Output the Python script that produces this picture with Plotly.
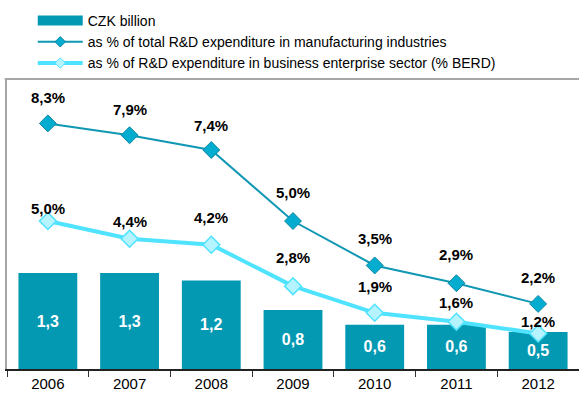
import plotly.graph_objects as go

years = [2006, 2007, 2008, 2009, 2010, 2011, 2012]
czk_billion = [1.3, 1.3, 1.2, 0.8, 0.6, 0.6, 0.5]
pct_manufacturing = [8.3, 7.9, 7.4, 5.0, 3.5, 2.9, 2.2]
pct_berd = [5.0, 4.4, 4.2, 2.8, 1.9, 1.6, 1.2]

# vertical offsets (px) for the percentage labels above each marker
offsets_manufacturing = [26, 26, 25, 29, 27, 29, 26]
offsets_berd = [13, 17, 27, 29, 26, 19, 12]

BAR = "#0399B3"
DARK = "#0F97B3"
LIGHT = "#4FE3FF"
FONT = "Liberation Sans, Arial, sans-serif"

NAME_BAR = "CZK billion"
NAME_MANUF = "as % of total R&D expenditure in manufacturing industries"
NAME_BERD = "as % of R&D expenditure in business enterprise sector (% BERD)"

style_manuf = dict(line=dict(color=DARK, width=2),
                   marker_color="#04ADD0", marker_line=dict(color="#0A86A3", width=1))
style_berd = dict(line=dict(color=LIGHT, width=4),
                  marker_color="#B5F3FF", marker_line=dict(color=LIGHT, width=1.5))


def comma(v, suffix=""):
    return f"{v:.1f}{suffix}".replace(".", ",")


fig = go.Figure()

fig.add_trace(go.Bar(
    x=years, y=czk_billion, name=NAME_BAR, showlegend=False,
    width=0.72,
    marker=dict(color=BAR, line=dict(width=0)),
    text=[comma(v) for v in czk_billion],
    textposition="inside", insidetextanchor="middle",
    textfont=dict(family=FONT, size=16, color="white", weight="bold"),
    textangle=0,
))
fig.add_trace(go.Scatter(
    x=years, y=pct_manufacturing, yaxis="y2", mode="lines+markers",
    name=NAME_MANUF, showlegend=False,
    line=style_manuf["line"],
    marker=dict(symbol="diamond", size=13, color=style_manuf["marker_color"],
                line=style_manuf["marker_line"]),
))
fig.add_trace(go.Scatter(
    x=years, y=pct_berd, yaxis="y2", mode="lines+markers",
    name=NAME_BERD, showlegend=False,
    line=style_berd["line"],
    marker=dict(symbol="diamond", size=13, color=style_berd["marker_color"],
                line=style_berd["marker_line"]),
))

# legend-only entries (placed below the visible range) with compact symbols
fig.add_trace(go.Scatter(
    x=years[:1], y=[-100], mode="lines", name=NAME_BAR,
    line=dict(color=BAR, width=10), hoverinfo="skip",
))
fig.add_trace(go.Scatter(
    x=years[:1], y=[-100], yaxis="y2", mode="lines+markers", name=NAME_MANUF,
    line=style_manuf["line"], hoverinfo="skip",
    marker=dict(symbol="diamond", size=8, color=style_manuf["marker_color"],
                line=style_manuf["marker_line"]),
))
fig.add_trace(go.Scatter(
    x=years[:1], y=[-100], yaxis="y2", mode="lines+markers", name=NAME_BERD,
    line=style_berd["line"], hoverinfo="skip",
    marker=dict(symbol="diamond", size=8, color=style_berd["marker_color"],
                line=dict(color=LIGHT, width=1)),
))

annotations = []
for vals, offs in ((pct_manufacturing, offsets_manufacturing), (pct_berd, offsets_berd)):
    for yr, v, off in zip(years, vals, offs):
        annotations.append(dict(
            x=yr, y=v, xref="x", yref="y2", yshift=off, showarrow=False,
            text=comma(v, "%"),
            font=dict(family=FONT, size=15, color="black", weight="bold"),
        ))

fig.update_layout(
    width=579, height=395,
    margin=dict(l=7, r=0, t=79, b=26),
    paper_bgcolor="white", plot_bgcolor="white",
    font=dict(family=FONT, size=14, color="black"),
    showlegend=True,
    legend=dict(
        x=0.045, y=1.0, xanchor="left", yanchor="bottom",
        font=dict(family=FONT, size=14, color="black"),
        itemwidth=45, tracegroupgap=0,
        bgcolor="rgba(0,0,0,0)",
        traceorder="normal",
    ),
    xaxis=dict(
        type="linear", range=[years[0] - 0.5, years[-1] + 0.5],
        tickmode="array", tickvals=years, ticktext=[str(y) for y in years],
        ticks="", showline=True, linecolor="#222222", linewidth=1.5,
        tickfont=dict(family=FONT, size=15, color="black"),
        showgrid=False, zeroline=False,
        minor=dict(tickmode="linear", tick0=years[0] - 0.5, dtick=1,
                   ticks="outside", ticklen=6, tickcolor="#333333", showgrid=False),
    ),
    yaxis=dict(
        range=[0, 3.93], showgrid=False, showticklabels=False, ticks="",
        showline=True, linecolor="#A6A6A6", linewidth=2, zeroline=False,
    ),
    yaxis2=dict(
        range=[0, 9.8], overlaying="y", side="right", showgrid=False,
        showticklabels=False, ticks="", showline=False, zeroline=False,
    ),
    annotations=annotations,
    shapes=[dict(type="line", xref="paper", yref="paper", x0=-0.004, x1=1,
                 y0=1, y1=1, line=dict(color="#A6A6A6", width=2))],
)

fig.write_html("out.html")
